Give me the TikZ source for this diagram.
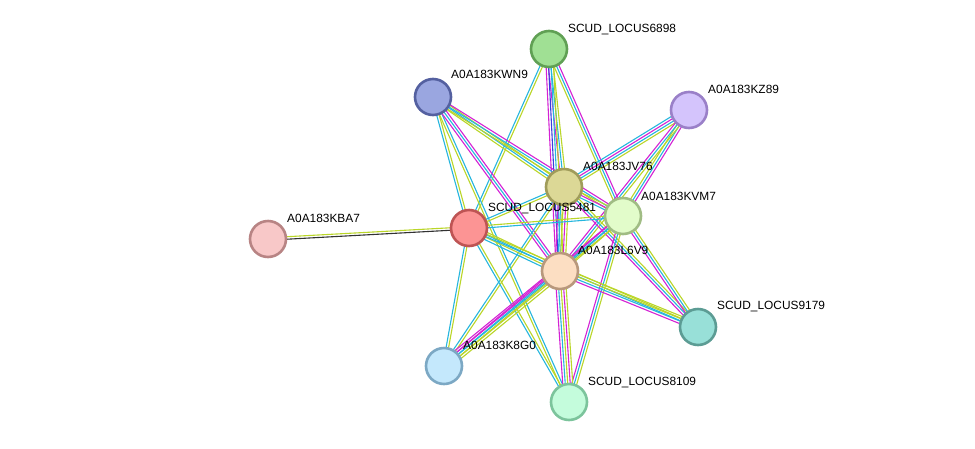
\documentclass[tikz,border=0pt]{standalone}
\usepackage{fontspec}
\setmainfont{Liberation Sans}
\usetikzlibrary{calc}
\pgfdeclarelayer{bglayer}
\pgfdeclarelayer{edgelayer}
\pgfsetlayers{bglayer,edgelayer,main}
\definecolor{cdb}{RGB}{38,182,222}
\definecolor{cexp}{RGB}{212,34,212}
\definecolor{ctxt}{RGB}{186,214,40}
\definecolor{ccoex}{RGB}{50,50,50}
\definecolor{ccooc}{RGB}{60,60,220}
\tikzset{
  prot/.style={circle, minimum size=36pt, inner sep=0pt, line width=2.6pt},
  lbl/.style={anchor=base west, inner sep=0pt, font=\fontsize{11.9}{14}\selectfont},
  eline/.style={line width=1.1pt}
}
\newcommand\sedge[3]{%
  \foreach \ecol [count=\i] in {#3} {\xdef\ncount{\i}}%
  \foreach \ecol [count=\i] in {#3} {%
    \pgfmathsetmacro\off{(\i-(\ncount+1)/2)*2.5}%
    \draw[eline,\ecol] ($(#1.center)!\off pt!90:(#2.center)$) -- ($(#2.center)!\off pt!-90:(#1.center)$);
  }}
\begin{document}
\begin{tikzpicture}[x=1pt,y=-1pt]
\begin{pgfonlayer}{bglayer}
\fill[white] (0,0) rectangle (975,448);
\end{pgfonlayer}
\useasboundingbox (0,0) rectangle (975,448);
% proteins
\node[prot, fill={rgb,255:red,160;green,224;blue,148}, draw={rgb,255:red,96;green,160;blue,84}] (n6898) at (549,49) {};
\node[prot, fill={rgb,255:red,154;green,166;blue,224}, draw={rgb,255:red,84;green,96;blue,160}] (nKWN9) at (433,97) {};
\node[prot, fill={rgb,255:red,212;green,196;blue,252}, draw={rgb,255:red,154;green,128;blue,200}] (nKZ89) at (689,110) {};
\node[prot, fill={rgb,255:red,220;green,216;blue,150}, draw={rgb,255:red,160;green,156;blue,90}] (nJV76) at (564,187) {};
\node[prot, fill={rgb,255:red,226;green,252;blue,202}, draw={rgb,255:red,160;green,188;blue,132}] (nKVM7) at (623,216) {};
\node[prot, fill={rgb,255:red,252;green,148;blue,148}, draw={rgb,255:red,190;green,84;blue,84}] (n5481) at (469,228) {};
\node[prot, fill={rgb,255:red,248;green,200;blue,200}, draw={rgb,255:red,184;green,132;blue,132}] (nKBA7) at (268,239) {};
\node[prot, fill={rgb,255:red,252;green,222;blue,194}, draw={rgb,255:red,184;green,152;blue,124}] (nL6V9) at (560,271) {};
\node[prot, fill={rgb,255:red,152;green,224;blue,216}, draw={rgb,255:red,92;green,156;blue,148}] (n9179) at (698,327) {};
\node[prot, fill={rgb,255:red,196;green,232;blue,252}, draw={rgb,255:red,124;green,168;blue,196}] (nK8G0) at (444,366) {};
\node[prot, fill={rgb,255:red,196;green,252;blue,220}, draw={rgb,255:red,124;green,196;blue,156}] (n8109) at (569,402) {};
% labels
\node[lbl] (t6898) at ([shift={(19,-17)}]n6898.center) {SCUD\_LOCUS6898};
\node[lbl] (tKWN9) at ([shift={(18,-19)}]nKWN9.center) {A0A183KWN9};
\node[lbl] (tKZ89) at ([shift={(19,-17)}]nKZ89.center) {A0A183KZ89};
\node[lbl] (tJV76) at ([shift={(19,-17)}]nJV76.center) {A0A183JV76};
\node[lbl] (tKVM7) at ([shift={(18,-16)}]nKVM7.center) {A0A183KVM7};
\node[lbl] (t5481) at ([shift={(19,-17)}]n5481.center) {SCUD\_LOCUS5481};
\node[lbl] (tKBA7) at ([shift={(19,-17)}]nKBA7.center) {A0A183KBA7};
\node[lbl] (tL6V9) at ([shift={(18,-17)}]nL6V9.center) {A0A183L6V9};
\node[lbl] (t9179) at ([shift={(19,-18)}]n9179.center) {SCUD\_LOCUS9179};
\node[lbl] (tK8G0) at ([shift={(19,-17)}]nK8G0.center) {A0A183K8G0};
\node[lbl] (t8109) at ([shift={(19,-17)}]n8109.center) {SCUD\_LOCUS8109};
% edges
\begin{pgfonlayer}{edgelayer}
\sedge{nKBA7}{n5481}{ccoex,ctxt}
\sedge{n6898}{n5481}{cdb,ctxt}
\sedge{n6898}{nJV76}{cexp,cdb,ctxt}
\sedge{n6898}{nL6V9}{cexp,ccooc,cdb,ctxt}
\sedge{n6898}{nKVM7}{ctxt,cdb,cexp}
\sedge{nKWN9}{n5481}{cdb,ctxt}
\sedge{nKWN9}{n8109}{ctxt,cdb}
\sedge{nKWN9}{nJV76}{ctxt,cdb,ctxt}
\sedge{nKWN9}{nKVM7}{ctxt,cdb,cexp}
\sedge{nKWN9}{nL6V9}{cexp,cdb,cexp}
\sedge{nKZ89}{nJV76}{cdb,cexp,cdb,ctxt}
\sedge{nKZ89}{nKVM7}{ctxt,cdb,cexp}
\sedge{nKZ89}{nL6V9}{cexp,cdb,ctxt}
\sedge{nJV76}{n5481}{cdb,ctxt}
\sedge{nJV76}{nKVM7}{cdb,cexp,ctxt}
\sedge{nJV76}{nL6V9}{cexp,cdb,ctxt,cexp,ctxt}
\sedge{nJV76}{n9179}{cexp,cdb,ctxt}
\sedge{nJV76}{nK8G0}{cdb,ctxt}
\sedge{n5481}{nKVM7}{cdb,ctxt}
\sedge{n5481}{nL6V9}{cdb,ctxt,cdb,ctxt}
\sedge{n5481}{n9179}{cdb,ctxt}
\sedge{n5481}{nK8G0}{cdb,ctxt}
\sedge{n5481}{n8109}{cdb,ctxt}
\sedge{nKVM7}{nL6V9}{cexp,cdb,ctxt}
\sedge{nKVM7}{n9179}{cexp,cdb,ctxt}
\sedge{nKVM7}{nK8G0}{cexp,cdb,ctxt}
\sedge{nKVM7}{n8109}{cexp,cdb,ctxt}
\sedge{nL6V9}{n9179}{cexp,cdb,ctxt,ctxt}
\sedge{nL6V9}{nK8G0}{cexp,cexp,cdb,ctxt,ctxt}
\sedge{nL6V9}{n8109}{cexp,cdb,ctxt,cexp,ctxt}
\end{pgfonlayer}
\end{tikzpicture}
\end{document}
